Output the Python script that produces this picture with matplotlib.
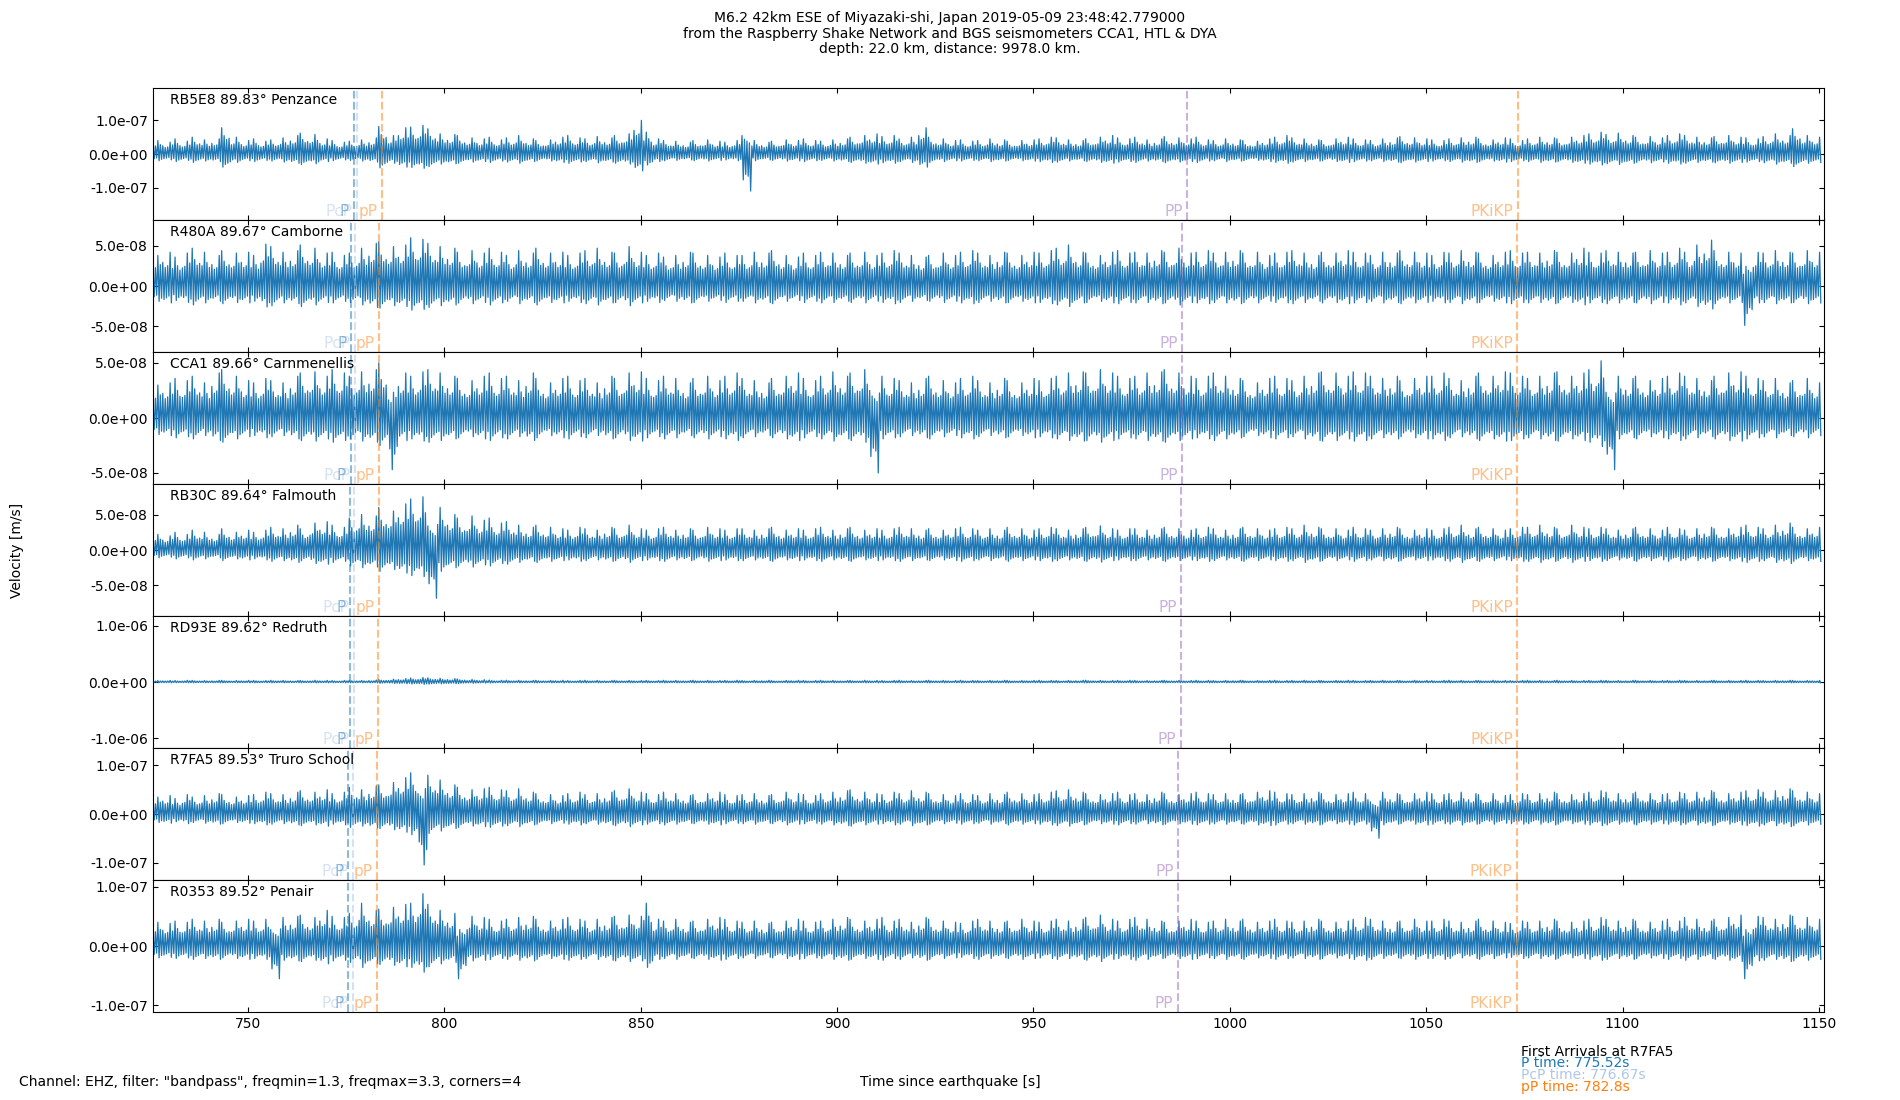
import numpy as np
import matplotlib
matplotlib.use('Agg')
from matplotlib import pyplot as plt
from matplotlib.ticker import FormatStrFormatter

# stations, top to bottom
stations = ['RB5E8', 'R480A', 'CCA1', 'RB30C', 'RD93E', 'R7FA5', 'R0353']
distances = [89.83, 89.67, 89.66, 89.64, 89.62, 89.53, 89.52]
places = ['Penzance', 'Camborne', 'Carnmenellis', 'Falmouth', 'Redruth', 'Truro School', 'Penair']
ylims = [1.96e-07, 8.2e-08, 6.0e-08, 9.3e-08, 1.17e-06, 1.36e-07, 1.11e-07]
yticks = [[-1e-07, 0, 1e-07], [-5e-08, 0, 5e-08], [-5e-08, 0, 5e-08], [-5e-08, 0, 5e-08],
          [-1e-06, 0, 1e-06], [-1e-07, 0, 1e-07], [-1e-07, 0, 1e-07]]

# arrival times (s) per station
p_times = [776.87, 776.15, 776.11, 776.02, 775.93, 775.52, 775.48]
pcp_times = [777.72, 777.16, 777.13, 777.06, 776.99, 776.67, 776.64]
pp_depth_times = [784.03, 783.37, 783.33, 783.25, 783.17, 782.80, 782.76]
PP_times = [989.1, 987.9, 987.8, 987.6, 987.5, 986.8, 986.7]
pkikp_times = [1073.3, 1073.2, 1073.2, 1073.2, 1073.2, 1073.1, 1073.1]

t_start = 725.8
t_end = 1151.3
bin_width = 2.5  # s, each value below = peak velocity in that bin [nm/s], sign = direction of biggest swing

trace_rb5e8 = [40, 35, 45, 38, 50, 42, 45, 78, 50, 40,
               45, 38, 42, 48, 55, 62, 58, 45, 40, 35,
               38, 42, 48, 82, 55, 78, 80, 85, 75, 60,
               58, 55, 48, 45, 50, 42, 48, 55, 45, 40,
               42, 50, 55, 48, 45, 52, 48, 55, 60, 100,
               65, 45, 40, 38, 35, 40, 42, 38, 35, 40,
               -110, 40, 35, 38, 42, 40, 45, 40, 38, 42,
               45, 50, 55, 60, 52, 55, 45, 50, 78, 50,
               45, 40, 42, 38, 40, 45, 42, 38, 40, 42,
               45, 50, 48, 42, 40, 45, 50, 55, 48, 45,
               50, 42, 45, 52, 48, 45, 50, 42, 40, 45,
               42, 40, 38, 45, 50, 55, 48, 45, 42, 40,
               45, 50, 45, 42, 40, 45, 48, 52, 48, 45,
               42, 40, 45, 48, 50, 45, 42, 48, 45, 40,
               45, 50, 48, 45, 50, 55, 60, 65, 58, 62,
               55, 50, 52, 48, 55, 60, 55, 50, 48, 52,
               55, 50, 48, 45, 52, 60, 55, 75, 55, 50]

trace_r480a = [38, 42, 36, 41, 47, 42, 38, 44, 41, 42,
               38, 52, 49, 42, 44, 51, 47, 41, 42, 38,
               41, 47, 53, 55, 49, 51, 60, 58, 53, 49,
               47, 42, 44, 41, 47, 42, 38, 44, 41, 47,
               41, 42, 38, 41, 44, 47, 42, 41, 49, 42,
               38, 41, 36, 38, 42, 41, 38, 36, 41, 38,
               38, 42, 41, 44, 38, 36, 41, 38, 42, 41,
               38, 41, 42, 38, 41, 44, 41, 38, 36, 38,
               41, 38, 42, 44, 41, 38, 42, 41, 38, 42,
               41, 44, 47, 51, 42, 41, 38, 42, 44, 41,
               42, 41, 44, 42, 47, 41, 42, 44, 41, 42,
               44, 41, 42, 38, 41, 42, 44, 41, 38, 42,
               41, 44, 42, 41, 38, 42, 41, 44, 42, 41,
               38, 42, 41, 44, 42, 41, 38, 42, 44, 41,
               42, 41, 44, 42, 41, 47, 42, 41, 44, 42,
               41, 42, 44, 41, 42, 47, 42, 51, 57, 44,
               42, 41, -49, 42, 41, 44, 42, 41, 44, 42]

trace_cca1 = [30, 32, 36, 34, 38, 32, 41, 44, 38, 34,
              32, 36, 34, 32, 38, 41, 42, 38, 44, 41,
              38, 42, 44, 50, -47, 41, 38, 42, 44, 41,
              38, 36, 34, 38, 41, 36, 38, 34, 41, 36,
              32, 36, 38, 34, 36, 32, 38, 36, 41, 42,
              36, 34, 38, 36, 32, 36, 38, 34, 38, 41,
              36, 34, 32, 36, 38, 41, 36, 34, 38, 42,
              38, 41, 44, -50, 38, 36, 34, 32, 36, 38,
              34, 32, 36, 38, 34, 32, 36, 34, 32, 36,
              34, 36, 38, 41, 42, 41, 44, 41, 38, 36,
              38, 41, 42, 44, 41, 38, 36, 38, 41, 38,
              36, 34, 32, 36, 38, 36, 34, 38, 41, 42,
              41, 38, 42, 41, 38, 36, 38, 34, 36, 38,
              38, 41, 36, 34, 38, 41, 38, 42, 41, 38,
              36, 38, 41, 42, 38, 41, 44, 52, -47, 38,
              36, 38, 34, 36, 38, 41, 38, 36, 34, 38,
              41, 42, 38, 36, 34, 36, 32, 34, 36, 32]

trace_rb30c = [22, 20, 25, 22, 28, 25, 22, 30, 25, 28,
               25, 28, 32, 30, 35, 30, 38, 40, 35, 32,
               45, 50, 48, 60, 55, 65, 72, 75, -68, 60,
               50, 45, 48, 42, 45, 38, 40, 35, 32, 35,
               32, 30, 28, 32, 30, 28, 32, 30, 35, 30,
               28, 30, 32, 28, 30, 28, 32, 30, 28, 30,
               30, 28, 30, 32, 28, 30, 28, 30, 32, 28,
               30, 32, 28, 30, 28, 30, 32, 30, 28, 30,
               28, 30, 32, 30, 28, 30, 28, 32, 30, 28,
               30, 32, 30, 28, 30, 32, 34, 30, 28, 30,
               30, 28, 30, 32, 30, 28, 30, 32, 30, 28,
               30, 32, 30, 28, 30, 32, 30, 35, 32, 30,
               30, 28, 32, 30, 28, 30, 32, 30, 28, 30,
               28, 30, 32, 35, 30, 32, 30, 28, 30, 32,
               32, 35, 32, 30, 35, 32, 30, 32, 30, 28,
               30, 32, 30, 28, 32, 30, 28, 30, 32, 30,
               30, 32, 35, 32, 30, 35, 38, 32, 30, 32]

trace_rd93e = [25, 28, 25, 30, 28, 25, 28, 30, 25, 28,
               28, 25, 30, 28, 25, 28, 30, 28, 25, 28,
               30, 28, 35, 45, 50, 60, 70, 80, 75, 65,
               60, 55, 45, 40, 35, 30, 32, 30, 28, 30,
               28, 30, 25, 28, 30, 28, 25, 30, 28, 26,
               28, 25, 30, 28, 26, 30, 28, 25, 28, 30,
               26, 28, 30, 25, 28, 30, 28, 26, 30, 28,
               25, 28, 30, 28, 26, 28, 30, 25, 28, 30,
               28, 26, 30, 28, 25, 28, 30, 28, 26, 28,
               30, 28, 25, 28, 30, 32, 28, 26, 28, 30,
               28, 25, 28, 30, 28, 26, 30, 28, 25, 28,
               30, 28, 26, 28, 30, 25, 28, 30, 28, 26,
               28, 30, 28, 25, 28, 30, 28, 26, 30, 28,
               25, 28, 30, 28, 26, 28, 30, 28, 25, 28,
               30, 28, 26, 30, 28, 25, 28, 30, 28, 26,
               28, 30, 28, 25, 28, 30, 28, 26, 28, 30,
               28, 26, 30, 28, 25, 28, 30, 28, 26, 28]

trace_r7fa5 = [35, 38, 32, 40, 35, 38, 42, 40, 35, 38,
               40, 45, 42, 40, 45, 48, 45, 50, 42, 45,
               55, 50, 58, 60, 65, 75, 85, -105, 80, 70,
               60, 55, 50, 52, 55, 50, 48, 52, 45, 42,
               40, 38, 42, 45, 40, 42, 45, 48, 52, 45,
               42, 40, 45, 42, 38, 40, 42, 45, 40, 38,
               40, 42, 38, 40, 45, 42, 40, 38, 42, 45,
               48, 50, 45, 42, 40, 45, 42, 48, 45, 42,
               40, 38, 42, 40, 38, 42, 40, 45, 42, 40,
               42, 45, 48, 50, 45, 42, 40, 42, 45, 40,
               42, 40, 45, 42, 40, 42, 45, 42, 40, 42,
               40, 42, 45, 48, 45, 42, 40, 42, 45, 42,
               40, 42, 45, 42, -50, 45, 42, 40, 42, 45,
               42, 40, 42, 45, 42, 40, 42, 38, 40, 42,
               40, 42, 45, 42, 40, 42, 45, 48, 45, 42,
               42, 45, 42, 40, 42, 45, 42, 45, 48, 45,
               42, 45, 48, 50, 45, 48, 52, 48, 45, 42]

trace_r0353 = [40, 38, 42, 40, 45, 42, 45, 40, 42, 45,
               42, 45, -55, 48, 50, 52, 48, 60, 50, 48,
               55, 72, 60, 62, 65, 70, 72, 88, 70, 60,
               55, -55, 50, 48, 45, 42, 45, 48, 50, 45,
               42, 45, 48, 45, 42, 45, 48, 50, 52, 50,
               72, 45, 42, 45, 40, 42, 45, 48, 45, 42,
               40, 42, 38, 40, 42, 45, 42, 40, 42, 45,
               48, 45, 42, 45, 48, 42, 45, 40, 48, 45,
               42, 40, 38, 42, 45, 42, 40, 42, 45, 42,
               40, 42, 45, 42, 45, 48, 52, 45, 42, 45,
               48, 45, 42, 40, 42, 45, 42, 40, 42, 45,
               42, 45, 40, 42, 45, 42, 40, 42, 45, 42,
               40, 42, 45, 48, 45, 42, 40, 42, 45, 42,
               42, 45, 42, 40, 42, 45, 42, 40, 38, 42,
               40, 42, 45, 42, 40, 42, 45, 48, 45, 42,
               45, 42, 40, 42, 45, 42, 48, 45, 42, 45,
               48, 52, -55, 50, 48, 45, 52, 50, 48, 45]

traces = [trace_rb5e8, trace_r480a, trace_cca1, trace_rb30c, trace_rd93e, trace_r7fa5, trace_r0353]

title = ('M6.2 42km ESE of Miyazaki-shi, Japan 2019-05-09 23:48:42.779000\n'
         'from the Raspberry Shake Network and BGS seismometers CCA1, HTL & DYA\n'
         'depth: 22.0 km, distance: 9978.0 km.')

# shape of the swings inside one bin
texture = np.array([0.35, 0.6, 0.3, 1.0, 0.5, 0.7, 0.4, 0.55])
n_sw = len(texture)


def wiggle(values):
    ts, ys = [], []
    for k, v in enumerate(values):
        n0 = k * n_sw
        shift = (3 * k) % n_sw
        peak = (int(np.argmax(texture)) + shift) % n_sw
        # put the biggest swing on the side given by the sign
        if (v >= 0) != ((n0 + peak) % 2 == 0):
            shift += 1
        tex = np.roll(texture, shift)
        for j in range(n_sw):
            ts.append(t_start + k * bin_width + j * bin_width / n_sw)
            ys.append((-1.0) ** (n0 + j) * abs(v) * tex[j] * 1e-9)
    return np.array(ts), np.array(ys)


fig, axes = plt.subplots(7, 1, sharex=True, figsize=(19, 11), dpi=100)
fig.subplots_adjust(left=0.0805, right=0.96, top=0.92, bottom=0.08, hspace=0)

phases = [('PcP', pcp_times, '#aec7e8'), ('P', p_times, '#1f77b4'),
          ('pP', pp_depth_times, '#ff7f0e'), ('PP', PP_times, '#9467bd'),
          ('PKiKP', pkikp_times, '#ff7f0e')]

for i, ax in enumerate(axes):
    t, y = wiggle(traces[i])
    ax.plot(t, y, color='#1f77b4', lw=0.9)
    ax.set_xlim(t_start, t_end)
    ax.set_ylim(-ylims[i], ylims[i])
    ax.set_yticks(yticks[i])
    ax.yaxis.set_major_formatter(FormatStrFormatter('%.1e'))
    ax.tick_params(direction='in', top=True, right=True, labelsize=10)
    ax.text(0.01, 0.88, '%s %.2f\u00b0 %s' % (stations[i], distances[i], places[i]),
            transform=ax.transAxes, fontsize=10, va='baseline')
    for name, times, col in phases:
        ax.axvline(times[i], color=col, ls='--', lw=1.5, alpha=0.5)
        ax.text(times[i] - 1.1, 0.03, name, color=col, alpha=0.5, fontsize=11,
                ha='right', va='baseline', transform=ax.get_xaxis_transform())

axes[-1].set_xticks([750, 800, 850, 900, 950, 1000, 1050, 1100, 1150])

fig.text(0.5, 0.99, title, ha='center', va='top', fontsize=10, linespacing=1.15)
fig.text(0.009, 0.5, 'Velocity [m/s]', rotation=90, ha='center', va='center', fontsize=10)
fig.text(0.5, 0.016, 'Time since earthquake [s]', ha='center', va='center', fontsize=10)
fig.text(0.01, 0.016, 'Channel: EHZ, filter: "bandpass", freqmin=1.3, freqmax=3.3, corners=4',
         ha='left', va='center', fontsize=10)
fig.text(0.8004, 0.0436, 'First Arrivals at R7FA5', ha='left', va='center', fontsize=10)
fig.text(0.8004, 0.0333, 'P time: 775.52s', color='#1f77b4', ha='left', va='center', fontsize=10)
fig.text(0.8004, 0.0227, 'PcP time: 776.67s', color='#aec7e8', ha='left', va='center', fontsize=10)
fig.text(0.8004, 0.0115, 'pP time: 782.8s', color='#ff7f0e', ha='left', va='center', fontsize=10)

fig.savefig('out.png')
